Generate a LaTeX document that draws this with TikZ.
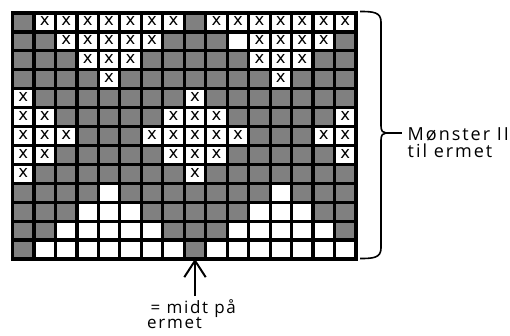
\documentclass[tikz,border=0pt]{standalone}
\usepackage{fontspec}
\setmainfont{Open Sans}
\newfontfamily\xfont{DejaVu Sans}
\newfontfamily\lblfont[LetterSpace=11]{Open Sans}
\newfontfamily\lblfontb[LetterSpace=10]{Open Sans}
\definecolor{cellgray}{RGB}{128,128,128}
\tikzset{
  cell/.style={rectangle, inner sep=0pt, minimum width=21.47pt, minimum height=18.92pt,
    font=\xfont\fontsize{16.5}{16.5}\selectfont},
  gridline/.style={line width=3.2pt, black, line cap=rect},
  bracestyle/.style={line width=1.6pt, black},
  arrowstyle/.style={line width=2pt, black},
  lblA/.style={inner sep=0pt, anchor=base west, font=\lblfont\fontsize{18}{18}\selectfont},
  lblB/.style={inner sep=0pt, anchor=base west, font=\lblfontb\fontsize{17}{17}\selectfont},
}
\begin{document}
\begin{tikzpicture}[x=1pt,y=-1pt]
\useasboundingbox (0,0) rectangle (510,335);
\fill[white] (0,0) rectangle (510,335);
\foreach \row [count=\j] in {
{g,x,x,x,x,x,x,x,g,x,x,x,x,x,x,x},
{g,g,x,x,x,x,x,g,g,g,w,x,x,x,x,g},
{g,g,g,x,x,x,g,g,g,g,g,x,x,x,g,g},
{g,g,g,g,x,g,g,g,g,g,g,g,x,g,g,g},
{x,g,g,g,g,g,g,g,x,g,g,g,g,g,g,g},
{x,x,g,g,g,g,g,x,x,x,g,g,g,g,g,x},
{x,x,x,g,g,g,x,x,x,x,x,g,g,g,x,x},
{x,x,g,g,g,g,g,x,x,x,g,g,g,g,g,x},
{x,g,g,g,g,g,g,g,x,g,g,g,g,g,g,g},
{g,g,g,g,w,g,g,g,g,g,g,g,w,g,g,g},
{g,g,g,w,w,w,g,g,g,g,g,w,w,w,g,g},
{g,g,w,w,w,w,w,g,g,g,w,w,w,w,w,g},
{g,w,w,w,w,w,w,w,g,w,w,w,w,w,w,w}}{
  \foreach \c [count=\i] in \row {
    \if\c g\def\cf{cellgray}\else\def\cf{white}\fi
    \node[cell, fill=\cf] (c-\j-\i) at ({12.5+(\i-0.5)*21.47},{13+(\j-0.5)*18.92}) {\if\c x\strut x\fi};
  }
}
\foreach \i in {0,...,16} \draw[gridline] ({12.5+\i*21.47},13) -- ({12.5+\i*21.47},259);
\foreach \j in {0,...,13} \draw[gridline] (12.5,{13+\j*18.92}) -- (356,{13+\j*18.92});
\draw[gridline, line width=3.5pt] (c-1-1.north west) rectangle (c-13-16.south east);
% brace
\coordinate (btip) at (386,133);
\draw[bracestyle] (360,11.5) .. controls (373,11.5) and (381,12) .. (381,22) -- (381,126)
   .. controls (381,131) and (383,133) .. (btip)
   .. controls (383,133) and (381,135) .. (381,140) -- (381,248)
   .. controls (381,258) and (373,258.5) .. (360,258.5);
% labels
\node[lblA] (m1) at (407.5,140) {Mønster II};
\node[lblA] (m2) at (407.5,157) {til ermet};
\draw[bracestyle] (btip) -- (btip -| m1.west) [shorten >=5.5pt];
\node[lblB] (b1) at (150.5,313) {= midt på};
\node[lblB] (b2) at (147,328.5) {ermet};
% arrow
\coordinate (tip) at ([yshift=-1.5pt]c-13-9.south);
\coordinate (abase) at (tip |- 0,296);
\draw[arrowstyle] (abase) -- (tip);
\draw[arrowstyle, line join=miter] ([shift={(-10.7,16.5)}]tip) -- (tip) -- ([shift={(10.7,16.5)}]tip);
\end{tikzpicture}
\end{document}
